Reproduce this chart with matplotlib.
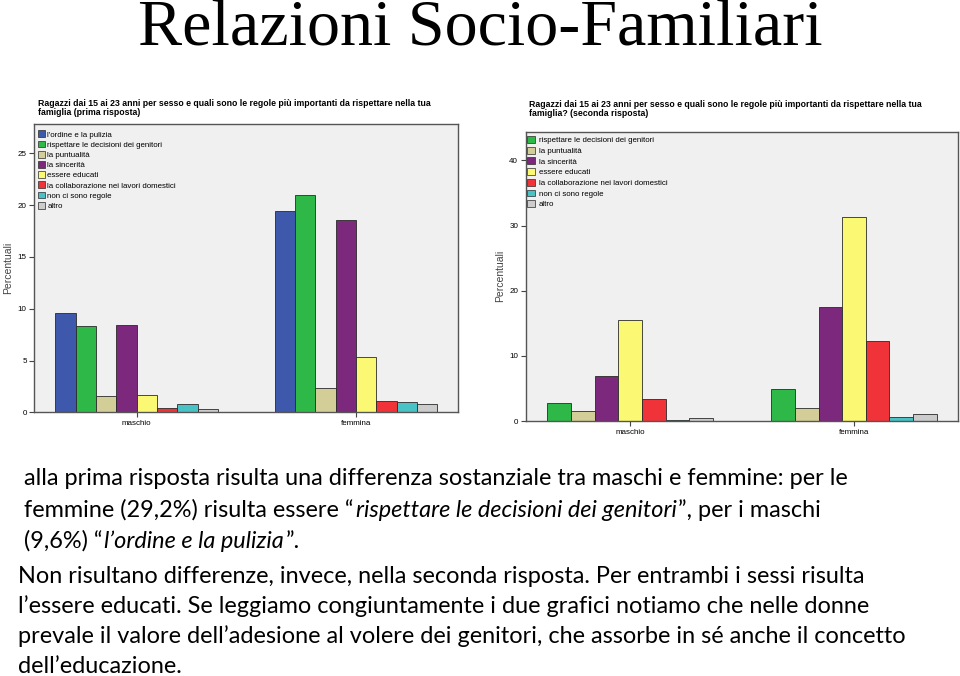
import numpy as np
import matplotlib
matplotlib.use("Agg")
import matplotlib.pyplot as plt
from matplotlib.patches import Patch

# data
sessi = ["maschio", "femmina"]

cat1 = ["l'ordine e la pulizia", "rispettare le decisioni dei genitori", "la puntualità",
        "la sincerità", "essere educati", "la collaborazione nei lavori domestici",
        "non ci sono regole", "altro"]
maschi1 = [9.6, 8.3, 1.6, 8.4, 1.7, 0.4, 0.8, 0.3]
femmine1 = [19.4, 21.0, 2.3, 18.6, 5.3, 1.1, 1.0, 0.8]

cat2 = cat1[1:]
maschi2 = [2.7, 1.6, 6.9, 15.5, 3.4, 0.2, 0.5]
femmine2 = [4.9, 2.0, 17.5, 31.3, 12.3, 0.6, 1.1]

colori = {"l'ordine e la pulizia": "#3E58AC",
          "rispettare le decisioni dei genitori": "#2EB848",
          "la puntualità": "#D3CE97",
          "la sincerità": "#7C287D",
          "essere educati": "#FBF873",
          "la collaborazione nei lavori domestici": "#EF3338",
          "non ci sono regole": "#48C2C5",
          "altro": "#CCCCCC"}

titolo1 = "Ragazzi dai 15 ai 23 anni per sesso e quali sono le regole più importanti da rispettare nella tua\nfamiglia (prima risposta)"
titolo2 = "Ragazzi dai 15 ai 23 anni per sesso e quali sono le regole più importanti da rispettare nella tua\nfamiglia? (seconda risposta)"

plt.rcParams["font.family"] = ["Liberation Sans", "DejaVu Sans"]

fig = plt.figure(figsize=(9.6, 6.76), dpi=100)
fig.patch.set_facecolor("white")


def grafico(rect, cats, m, f, ymax, yticks, group_w, lsp, anchor, tpad):
    ax = fig.add_axes(rect)
    ax.set_facecolor("#F0F0F0")
    n = len(cats)
    w = group_w / n
    x = np.arange(len(sessi))
    for i, c in enumerate(cats):
        ax.bar(x - group_w / 2 + w * (i + 0.5), [m[i], f[i]], width=w,
               color=colori[c], edgecolor="#2a2a2a", linewidth=0.6)
    ax.set_xlim(-0.466, 1.463)
    ax.set_ylim(0, ymax)
    ax.set_yticks(yticks)
    ax.set_xticks(x)
    ax.set_xticklabels(sessi)
    ax.tick_params(labelsize=5.8, length=3.5, width=0.8, color="#444444", pad=2)
    for s in ax.spines.values():
        s.set_color("#555555")
        s.set_linewidth(1.0)
    ax.set_ylabel("Percentuali", fontsize=7.5, color="#444444", labelpad=3)
    handles = [Patch(facecolor=colori[c], edgecolor="#2a2a2a", linewidth=0.5) for c in cats]
    ax.legend(handles, cats, loc="upper left", bbox_to_anchor=anchor, frameon=False,
              fontsize=5.65, handlelength=0.95, handleheight=0.95, handletextpad=tpad,
              labelspacing=lsp, borderaxespad=0, borderpad=0.2)
    return ax


ax1 = grafico([0.0357, 0.3901, 0.441, 0.4269], cat1, maschi1, femmine1,
              27.86, [0, 5, 10, 15, 20, 25], 0.741, 0.27, (0.004, 0.982), 0.3)
ax2 = grafico([0.5476, 0.3772, 0.45, 0.428], cat2, maschi2, femmine2,
              44.4, [0, 10, 20, 30, 40], 0.739, 0.33, (0.0, 0.99), 0.55)

fig.text(38 / 960, 1 - 99 / 676, titolo1, fontsize=6.3, fontweight="bold",
         va="top", ha="left", linespacing=1.0)
fig.text(529 / 960, 1 - 100 / 676, titolo2, fontsize=6.3, fontweight="bold",
         va="top", ha="left", linespacing=1.0)

fig.text(0.5, 1 - 45 / 676, "Relazioni Socio-Familiari", family="Liberation Serif",
         fontsize=47.5, ha="center", va="baseline")

# testo descrittivo
corpo = ["Lato", "DejaVu Sans"]
fs = 16.9
righe = [
    (24, 485, [("alla prima risposta risulta una differenza sostanziale tra maschi e femmine: per le", "normal")]),
    (24, 517, [("femmine (29,2%) risulta essere \u201c", "normal"),
               ("rispettare le decisioni dei genitori", "italic"),
               ("\u201d, per i maschi", "normal")]),
    (24, 548, [("(9,6%) \u201c", "normal"), ("l\u2019ordine e la pulizia", "italic"), ("\u201d.", "normal")]),
    (18, 583, [("Non risultano differenze, invece, nella seconda risposta. Per entrambi i sessi risulta", "normal")]),
    (18, 613, [("l\u2019essere educati. Se leggiamo congiuntamente i due grafici notiamo che nelle donne", "normal")]),
    (18, 643, [("prevale il valore dell\u2019adesione al volere dei genitori, che assorbe in s\u00e9 anche il concetto", "normal")]),
    (18, 673, [("dell\u2019educazione.", "normal")]),
]

fig.canvas.draw()
r = fig.canvas.get_renderer()
for x0, y0, pezzi in righe:
    xp = x0
    for testo, stile in pezzi:
        t = fig.text(xp / 960, 1 - y0 / 676, testo, family=corpo, fontsize=fs,
                     style=stile, ha="left", va="baseline", color="black")
        bb = t.get_window_extent(renderer=r)
        xp = bb.x1 + 2

fig.savefig("out.png", dpi=100)
